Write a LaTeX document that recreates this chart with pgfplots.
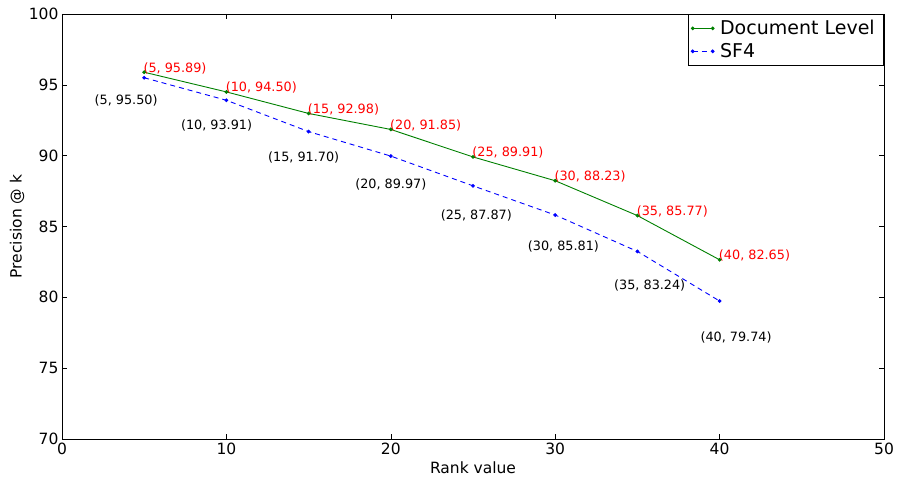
\documentclass[border=0pt]{standalone}
\usepackage{fontspec}
\setmainfont{DejaVu Sans}
\usepackage{pgfplots}
\pgfplotsset{compat=1.18}
\definecolor{mgreen}{rgb}{0,0.5,0}
\definecolor{mblue}{rgb}{0,0,1}
\definecolor{mred}{rgb}{1,0,0}
\begin{document}
\begin{tikzpicture}
\begin{axis}[
  scale only axis, width=822pt, height=425pt,
  xmin=0, xmax=50, ymin=70, ymax=100,
  xtick={0,10,...,50}, ytick={70,75,...,100},
  tick align=inside, major tick length=5pt, minor tick num=0,
  tick style={black, line width=0.6pt},
  axis line style={black, line width=0.8pt},
  /pgf/number format/assume math mode=true,
  tick label style={font=\fontsize{15.5}{17}\selectfont},
  xlabel={Rank value}, ylabel={Precision @ k},
  label style={font=\fontsize{15.5}{17}\selectfont},
  xlabel style={at={(axis description cs:0.5,-0.068)}, anchor=center},
  ylabel style={at={(axis description cs:-0.0547,0.5)}, anchor=center},
  legend style={at={(1,1)}, anchor=north east, draw=black, line width=0.6pt,
    font=\fontsize{19}{21}\selectfont, inner xsep=3pt, inner ysep=2.5pt, row sep=0pt,
    nodes={inner xsep=6pt, inner ysep=3.6pt}},
  legend cell align=left,
  legend image code/.code={\draw[#1] plot coordinates {(1pt,0pt) (21pt,0pt)};},
]
\addplot[mgreen, line width=0.9pt, mark=*, mark size=1.4pt] coordinates {
 (5,95.89) (10,94.50) (15,92.98) (20,91.85) (25,89.91) (30,88.23) (35,85.77) (40,82.65)};
\addlegendentry{Document Level}
\addplot[mblue, line width=0.9pt, dash pattern=on 5pt off 4pt, mark=*, mark size=1.4pt, mark options={solid}] coordinates {
 (5,95.50) (10,93.91) (15,91.70) (20,89.97) (25,87.87) (30,85.81) (35,83.24) (40,79.74)};
\addlegendentry{SF4}
\begin{scope}[every node/.style={font=\fontsize{12.8}{14}\selectfont, inner sep=0pt}]
\node[mred, anchor=base west] at (axis cs:4.95,95.89) {(5, 95.89)};
\node[mred, anchor=base west] at (axis cs:9.95,94.50) {(10, 94.50)};
\node[mred, anchor=base west] at (axis cs:14.95,92.98) {(15, 92.98)};
\node[mred, anchor=base west] at (axis cs:19.95,91.85) {(20, 91.85)};
\node[mred, anchor=base west] at (axis cs:24.95,89.91) {(25, 89.91)};
\node[mred, anchor=base west] at (axis cs:29.95,88.23) {(30, 88.23)};
\node[mred, anchor=base west] at (axis cs:34.95,85.77) {(35, 85.77)};
\node[mred, anchor=base west] at (axis cs:39.95,82.65) {(40, 82.65)};
\node[black] at (axis cs:3.9,93.86) {(5, 95.50)};
\node[black] at (axis cs:9.4,92.13) {(10, 93.91)};
\node[black] at (axis cs:14.7,89.84) {(15, 91.70)};
\node[black] at (axis cs:20.0,88.00) {(20, 89.97)};
\node[black] at (axis cs:25.2,85.78) {(25, 87.87)};
\node[black] at (axis cs:30.5,83.59) {(30, 85.81)};
\node[black] at (axis cs:35.75,80.87) {(35, 83.24)};
\node[black] at (axis cs:41.0,77.17) {(40, 79.74)};
\end{scope}
\end{axis}
\path ([shift={(-62pt,-47pt)}]current axis.south west) rectangle ([shift={(15pt,14pt)}]current axis.north east);
\end{tikzpicture}
\end{document}
